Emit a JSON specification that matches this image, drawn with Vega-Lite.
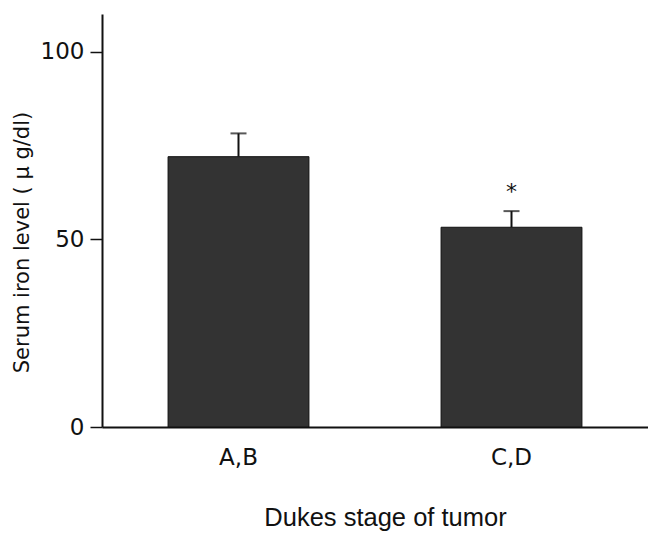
{
  "$schema": "https://vega.github.io/schema/vega-lite/v6.json",
  "autosize": {"type": "none"},
  "padding": {"left": 102, "top": 14, "right": 0, "bottom": 107},
  "width": 546,
  "height": 413,
  "background": "white",
  "config": {"view": {"stroke": null}},
  "data": {"values": [
    {"stage": "A,B", "mean": 72, "upper": 78.2, "star": ""},
    {"stage": "C,D", "mean": 53.2, "upper": 57.5, "star": "*"}
  ]},
  "encoding": {
    "x": {
      "field": "stage", "type": "nominal",
      "scale": {"paddingInner": 0.484, "paddingOuter": 0.242},
      "axis": {
        "title": "Dukes stage of tumor", "labelAngle": 0, "ticks": false,
        "labelFont": "DejaVu Sans", "labelFontSize": 23, "labelColor": "#111",
        "labelPadding": 19, "titleFont": "Liberation Sans", "titleFontSize": 25.5,
        "titleFontWeight": "normal", "titleColor": "#111", "titlePadding": 36,
        "titleX": 283, "domainColor": "#111", "domainWidth": 2
      }
    }
  },
  "layer": [
    {
      "mark": {"type": "bar", "fill": "#333333", "stroke": "#111", "strokeWidth": 1},
      "encoding": {
        "y": {
          "field": "mean", "type": "quantitative",
          "scale": {"domain": [0, 110], "nice": false},
          "axis": {
            "title": "Serum iron level ( μ g/dl)", "values": [0, 50, 100], "grid": false,
            "labelFont": "DejaVu Sans", "labelFontSize": 23, "labelColor": "#111",
            "labelPadding": 6, "tickSize": 12, "tickColor": "#111", "tickWidth": 1.5,
            "domainColor": "#111", "domainWidth": 2,
            "titleFont": "DejaVu Sans", "titleFontSize": 21, "titleFontWeight": "normal",
            "titleColor": "#111", "titlePadding": 8, "titleY": 228
          }
        }
      }
    },
    {
      "mark": {"type": "rule", "color": "#111", "strokeWidth": 2},
      "encoding": {
        "y": {"field": "mean", "type": "quantitative"},
        "y2": {"field": "upper"}
      }
    },
    {
      "mark": {"type": "tick", "color": "#111", "size": 16, "thickness": 2},
      "encoding": {
        "y": {"field": "upper", "type": "quantitative"}
      }
    },
    {
      "mark": {"type": "text", "fontSize": 22, "font": "DejaVu Sans", "color": "#111", "baseline": "middle", "dy": 4},
      "encoding": {
        "y": {"datum": 63.7, "type": "quantitative"},
        "text": {"field": "star"}
      }
    }
  ]
}
